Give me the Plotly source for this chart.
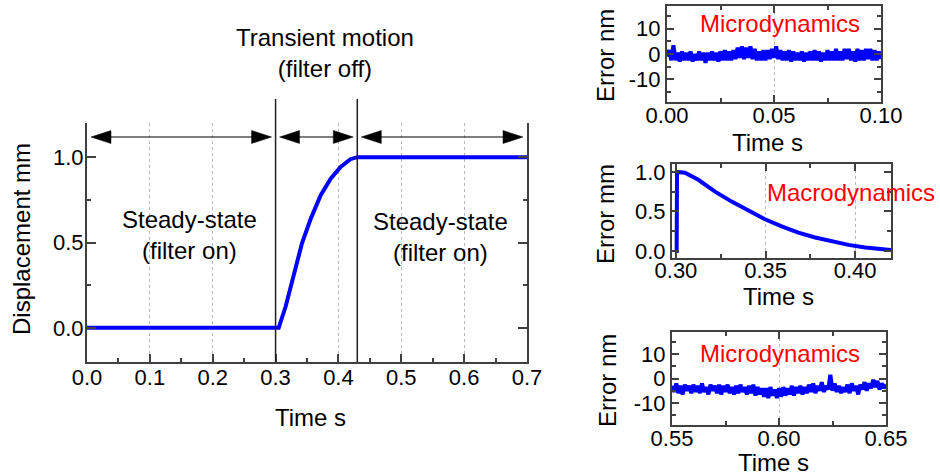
import plotly.graph_objects as go

# ---------------- data ----------------
# Main plot: displacement step response
main_t = [0.0, 0.305, 0.316, 0.329, 0.342, 0.356, 0.372, 0.388, 0.4035, 0.419, 0.43, 0.7]
main_d = [0.0, 0.0, 0.125, 0.32, 0.495, 0.64, 0.778, 0.875, 0.943, 0.988, 1.0, 1.0]

# Region boundaries (s) for the arrows / vertical separators
region_bounds = [0.0, 0.3, 0.43, 0.7]
separators = [0.3, 0.43]

# Sub plot 2: macrodynamics error (mm)
err_t = [0.2998, 0.3004, 0.3006, 0.303, 0.305, 0.3125, 0.3218, 0.3311, 0.3404, 0.3497,
         0.359, 0.3683, 0.3777, 0.387, 0.3963, 0.4056, 0.4149, 0.42]
err_mm = [0.0, 0.0, 1.0, 1.0, 0.99, 0.90, 0.75, 0.624, 0.51, 0.40,
          0.31, 0.23, 0.17, 0.118, 0.076, 0.042, 0.02, 0.01]

# Sub plot 1: microdynamics error (nm), 0.00 - 0.10 s, sampled every 1 ms
micro1_t0 = 0.0
micro1_nm = [-1, 1.5, -2.5, 3.5, -2.5, 0.5, -3, 1, -2.5, 0.5, -2.5, 1, -3, 0, -2.5, 1, -2.5, 0.5, -3.5, 0.5,
             -2.5, 1, -2.5, 0.5, -3, 1, -2.5, 1.5, -2.5, 1, -2.5, 1.5, -2, 2.5, -1.5, 3, -2, 2.5, -1.5, 3,
             -2, 2, -2.5, 1, -2.5, 1.5, -2.5, 1.5, -2, 2, -1.5, 3, -2, 1.5, -2.5, 1, -2.5, 1.5, -3, 1,
             -2.5, 0.5, -2.5, 1, -3, 0.5, -2.5, 1, -2.5, 1.5, -2.5, 1, -3, 0.5, -2.5, 1.5, -2.5, 1, -2.5, 2,
             -2.5, 1, -2.5, 2, -2, 2, -2.5, 1, -3, 2, -2.5, 1.5, -2.5, 2, -2, 2, -2.5, 1.5, -2.5, 1, -2]

# Sub plot 3: microdynamics error (nm), 0.55 - 0.65 s, sampled every 1 ms
micro3_t0 = 0.55
micro3_nm = [-3, -5.5, -2, -6, -3, -6.5, -2.5, -5, -3, -6, -2.5, -5.5, -3, -6, -2, -5.5, -3.5, -6.5, -2.5, -5,
             -3, -6, -2.5, -6.5, -3, -5.5, -2.5, -6, -3.5, -6.5, -3, -6, -2.5, -5.5, -3.5, -6.5, -3, -6, -2.5, -7,
             -3.5, -6.5, -4, -7.5, -4, -8, -3.5, -7, -4.5, -8, -4, -7.5, -3.5, -7, -4, -6.5, -3, -7, -3.5, -6,
             -3, -6.5, -3.5, -6, -2.5, -5.5, -2, -6, -3, -5, -1.5, -5.5, -3, -4.5, 1.5, -5, -2, -5.5, -3, -6,
             -3.5, -5.5, -2.5, -6, -2, -5, -3, -6.5, -2.5, -4.5, -1.5, -5, -2, -4, -0.5, -3.5, -1, -4.5, -2, -4, -2.5]
micro_dt = 0.001

nm_tickvals = [-10, 0, 10]
nm_ticktext = ["-10", "0", "10"]

# ---------------- style ----------------
FONT = "Liberation Sans, Arial, sans-serif"
BLUE = "#0000ff"
AXC = "#404040"
GRIDC = "#b8b8b8"

micro1_t = [micro1_t0 + i * micro_dt for i in range(len(micro1_nm))]
micro3_t = [micro3_t0 + i * micro_dt for i in range(len(micro3_nm))]

fig = go.Figure()
fig.add_trace(go.Scatter(x=main_t, y=main_d, mode="lines", line=dict(color=BLUE, width=4),
                         xaxis="x", yaxis="y", showlegend=False))
fig.add_trace(go.Scatter(x=micro1_t, y=micro1_nm, mode="lines", line=dict(color=BLUE, width=4),
                         xaxis="x2", yaxis="y2", showlegend=False))
fig.add_trace(go.Scatter(x=err_t, y=err_mm, mode="lines", line=dict(color=BLUE, width=4),
                         xaxis="x3", yaxis="y3", showlegend=False))
fig.add_trace(go.Scatter(x=micro3_t, y=micro3_nm, mode="lines", line=dict(color=BLUE, width=4),
                         xaxis="x4", yaxis="y4", showlegend=False))

W, H = 940, 475


def px_x(x0, x1):
    return [x0 / W, x1 / W]


def px_y(top, bottom):
    return [(H - bottom) / H, (H - top) / H]


tickfont_main = dict(family=FONT, size=22, color="black")
tickfont_sub = dict(family=FONT, size=22, color="black")


def base_axis(**kw):
    d = dict(showline=True, linecolor=AXC, linewidth=2, ticks="inside", tickcolor=AXC,
             tickwidth=1.5, zeroline=False, automargin=False, fixedrange=True)
    d.update(kw)
    return d


main_dom_x = px_x(87, 527)
main_dom_y = px_y(123, 362)

layout = dict(
    width=W, height=H, margin=dict(l=0, r=0, t=0, b=0),
    paper_bgcolor="white", plot_bgcolor="white", showlegend=False,
    font=dict(family=FONT, color="black"),
    xaxis=base_axis(domain=main_dom_x, anchor="y", range=[0, 0.7], dtick=0.1, tick0=0,
                    tickformat=".1f", ticklen=8, tickfont=tickfont_main, mirror=False,
                    ticklabelstandoff=-5,
                    showgrid=True, gridcolor=GRIDC, griddash="dot", gridwidth=1,
                    minor=dict(dtick=0.05, tick0=0, ticklen=4, ticks="inside", tickcolor=AXC, showgrid=False)),
    yaxis=base_axis(domain=main_dom_y, anchor="x", range=[-0.2, 1.2], dtick=0.5, tick0=0,
                    tickformat=".1f", ticklen=9, tickfont=tickfont_main, mirror="ticks", showgrid=False,
                    ticklabelstandoff=-3,
                    minor=dict(dtick=0.25, tick0=0, ticklen=4, ticks="inside", tickcolor=AXC, showgrid=False)),
    xaxis2=base_axis(domain=px_x(667, 881), anchor="y2", range=[0, 0.1], dtick=0.05, tick0=0,
                     tickformat=".2f", ticklen=7, tickfont=tickfont_sub, mirror="ticks",
                     ticklabelstandoff=-7,
                     showgrid=True, gridcolor=GRIDC, griddash="dot",
                     minor=dict(dtick=0.025, tick0=0, ticklen=4, ticks="inside", tickcolor=AXC, showgrid=False)),
    yaxis2=base_axis(domain=px_y(6, 102), anchor="x2", range=[-19, 19], tickmode="array",
                     tickvals=nm_tickvals, ticktext=nm_ticktext, ticklen=7, tickfont=tickfont_sub,
                     mirror="ticks", showgrid=False,
                     minor=dict(tickmode="array", tickvals=[-15, -5, 5, 15], ticklen=4, ticks="inside",
                                tickcolor=AXC, showgrid=False)),
    xaxis3=base_axis(domain=px_x(672, 891), anchor="y3", range=[0.2978, 0.42], dtick=0.05, tick0=0.3,
                     tickformat=".2f", ticklen=7, tickfont=tickfont_sub, mirror="ticks",
                     ticklabelstandoff=-8,
                     showgrid=True, gridcolor=GRIDC, griddash="dot",
                     minor=dict(dtick=0.025, tick0=0.3, ticklen=4, ticks="inside", tickcolor=AXC, showgrid=False)),
    yaxis3=base_axis(domain=px_y(164, 258), anchor="x3", range=[-0.09, 1.1], dtick=0.5, tick0=0,
                     tickformat=".1f", ticklen=7, tickfont=tickfont_sub, mirror="ticks", showgrid=False,
                     minor=dict(dtick=0.25, tick0=0, ticklen=4, ticks="inside", tickcolor=AXC, showgrid=False)),
    xaxis4=base_axis(domain=px_x(672, 886), anchor="y4", range=[0.55, 0.65], dtick=0.05, tick0=0.55,
                     tickformat=".2f", ticklen=7, tickfont=tickfont_sub, mirror="ticks",
                     ticklabelstandoff=-7,
                     showgrid=True, gridcolor=GRIDC, griddash="dot",
                     minor=dict(dtick=0.025, tick0=0.55, ticklen=4, ticks="inside", tickcolor=AXC, showgrid=False)),
    yaxis4=base_axis(domain=px_y(332, 425), anchor="x4", range=[-19, 19], tickmode="array",
                     tickvals=nm_tickvals, ticktext=nm_ticktext, ticklen=7, tickfont=tickfont_sub,
                     mirror="ticks", showgrid=False,
                     minor=dict(tickmode="array", tickvals=[-15, -5, 5, 15], ticklen=4, ticks="inside",
                                tickcolor=AXC, showgrid=False)),
)
fig.update_layout(**layout)

# ---------------- separators and arrows (main plot) ----------------
shapes = []
sep_top = (H - 99) / H
for xs in separators:
    shapes.append(dict(type="line", xref="x", yref="paper", x0=xs, x1=xs,
                       y0=main_dom_y[0], y1=sep_top, line=dict(color="#202020", width=1.5)))

ax_px = (main_dom_x[1] - main_dom_x[0]) * W / 0.7     # pixels per second
arrow_y = (H - 137) / H
gap = 4 / ax_px
head_len = 20 / ax_px
head_half = 6.5 / H
for a, b in zip(region_bounds[:-1], region_bounds[1:]):
    xa, xb = a + gap, b - gap
    shapes.append(dict(type="line", xref="x", yref="paper", x0=xa + head_len / 2, x1=xb - head_len / 2,
                       y0=arrow_y, y1=arrow_y, line=dict(color="black", width=1.2)))
    for tip, base in ((xa, xa + head_len), (xb, xb - head_len)):
        shapes.append(dict(type="path", xref="x", yref="paper",
                           path=f"M {tip},{arrow_y} L {base},{arrow_y + head_half} L {base},{arrow_y - head_half} Z",
                           fillcolor="black", line=dict(color="black", width=0.5)))
fig.update_layout(shapes=shapes)

# ---------------- text ----------------
label_font = dict(family=FONT, size=24, color="black")
red_font = dict(family=FONT, size=24, color="#ff0000")
title_sub_font = dict(family=FONT, size=24, color="black")

texts = [
    # (text, x_px, y_px, font, angle)
    ("Transient motion<br>(filter off)", 325, 53, label_font, 0),
    ("Steady-state<br>(filter on)", 189, 235, label_font, 0),
    ("Steady-state<br>(filter on)", 440, 237, label_font, 0),
    ("Displacement mm", 22, 239, label_font, -90),
    ("Time s", 310, 417, label_font, 0),
    ("Error nm", 605, 56, title_sub_font, -90),
    ("Time s", 767, 142, title_sub_font, 0),
    ("Error mm", 605, 214, title_sub_font, -90),
    ("Time s", 778, 296, title_sub_font, 0),
    ("Error nm", 607, 381, title_sub_font, -90),
    ("Time s", 773, 462, title_sub_font, 0),
    ("Microdynamics", 780, 24, red_font, 0),
    ("Macrodynamics", 851, 192, red_font, 0),
    ("Microdynamics", 780, 353, red_font, 0),
]
annotations = []
for txt, x, y, f, ang in texts:
    annotations.append(dict(text=txt, x=x / W, y=(H - y) / H, xref="paper", yref="paper",
                            xanchor="center", yanchor="middle", showarrow=False, font=f,
                            textangle=ang))
fig.update_layout(annotations=annotations)

fig.write_html("out.html")
